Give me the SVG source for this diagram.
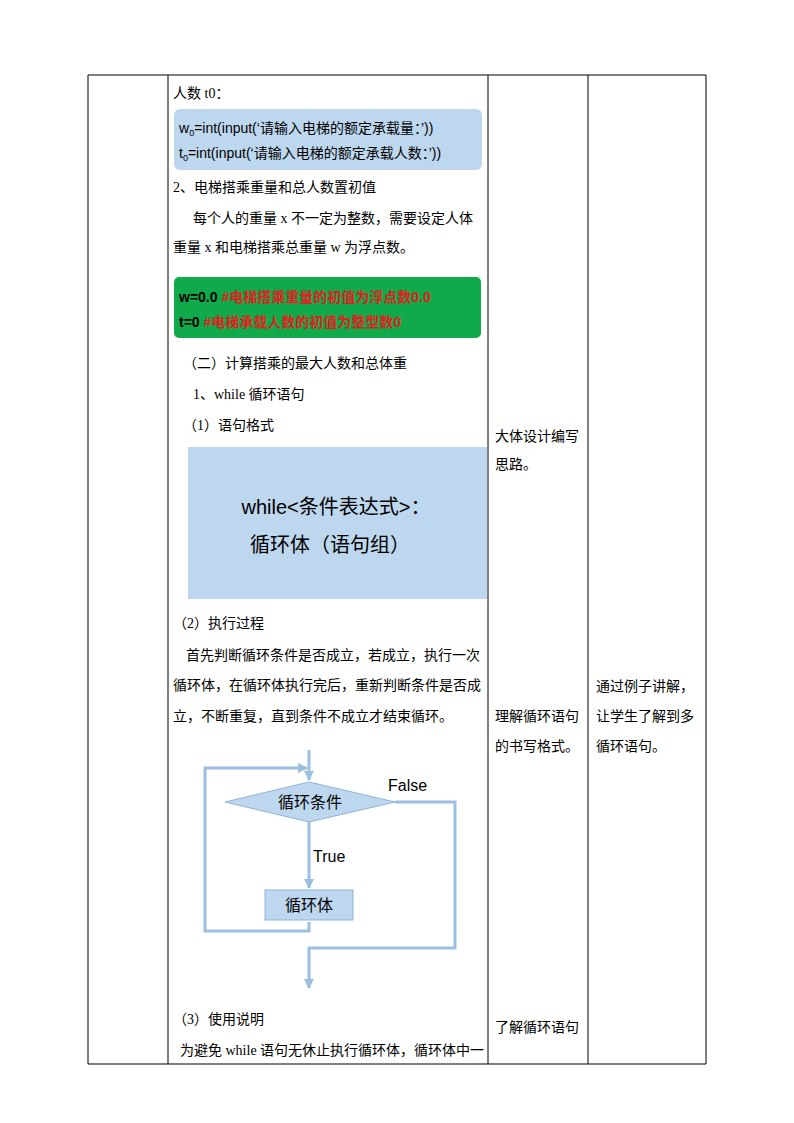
<svg xmlns="http://www.w3.org/2000/svg" width="794" height="1123" viewBox="0 0 794 1123">
<style>
.t{font-family:"Liberation Serif","Noto Sans CJK SC",serif;font-size:14px;fill:#000}
.s{font-family:"Liberation Sans","Noto Sans CJK SC",sans-serif;fill:#000}
.g{stroke:#000;stroke-width:1;fill:none}
.f{stroke:#9dbfdf;stroke-width:3;fill:none}
</style>
<defs><marker id="a" viewBox="0 0 10 10" refX="9" refY="5" markerWidth="3.5" markerHeight="3.5" orient="auto"><path d="M0,0L10,5L0,10z" fill="#9dbfdf"/></marker></defs>
<rect width="794" height="1123" fill="#fff"/>
<g id="table">
<path class="g" d="M88,75H706V1064H88Z M168,75V1064 M488,75V1064 M588,75V1064"/>
</g>
<g id="content">
<text class="t" x="173" y="98">人数 t0：</text>
<rect x="174" y="109" width="308" height="61" rx="6" fill="#bdd7ee"/>
<text class="s" x="179" y="133" font-size="14">w<tspan font-size="9" dy="3">0</tspan><tspan dy="-3">=int(input(‘请输入电梯的额定承载量：’))</tspan></text>
<text class="s" x="179" y="158" font-size="14">t<tspan font-size="9" dy="3">0</tspan><tspan dy="-3">=int(input(‘请输入电梯的额定承载人数：’))</tspan></text>
<text class="t" x="173" y="192">2、电梯搭乘重量和总人数置初值</text>
<text class="t" x="193" y="223">每个人的重量 x 不一定为整数，需要设定人体</text>
<text class="t" x="173" y="252">重量 x 和电梯搭乘总重量 w 为浮点数。</text>
<rect x="174" y="277" width="307" height="61" rx="5" fill="#10aa4a"/>
<text class="s" x="179" y="302" font-size="14" font-weight="bold"><tspan fill="#000">w=0.0 </tspan><tspan fill="#e02020">#电梯搭乘重量的初值为浮点数0.0</tspan></text>
<text class="s" x="179" y="327" font-size="14" font-weight="bold"><tspan fill="#000">t=0 </tspan><tspan fill="#e02020">#电梯承载人数的初值为整型数0</tspan></text>
<text class="t" x="183" y="368">（二）计算搭乘的最大人数和总体重</text>
<text class="t" x="193" y="399">1、while 循环语句</text>
<text class="t" x="183" y="430">（1）语句格式</text>
<rect x="188" y="447" width="299" height="152" fill="#bdd7ee"/>
<text class="s" x="336" y="514" font-size="20" text-anchor="middle">while&lt;条件表达式&gt;：</text>
<text class="s" x="330" y="552" font-size="20" text-anchor="middle">循环体（语句组）</text>
<text class="t" x="173" y="628">（2）执行过程</text>
<text class="t" x="186" y="660">首先判断循环条件是否成立，若成立，执行一次</text>
<text class="t" x="173" y="690">循环体，在循环体执行完后，重新判断条件是否成</text>
<text class="t" x="173" y="721">立，不断重复，直到条件不成立才结束循环。</text>
<text class="t" x="173" y="1024">（3）使用说明</text>
<text class="t" x="180" y="1055">为避免 while 语句无休止执行循环体，循环体中一</text>
<text class="t" x="495" y="441">大体设计编写</text>
<text class="t" x="495" y="469">思路。</text>
<text class="t" x="495" y="721">理解循环语句</text>
<text class="t" x="495" y="751">的书写格式。</text>
<text class="t" x="495" y="1032">了解循环语句</text>
<text class="t" x="596" y="691">通过例子讲解，</text>
<text class="t" x="596" y="721">让学生了解到多</text>
<text class="t" x="596" y="751">循环语句。</text>
</g>
<g id="connectors">
<path class="f" d="M309,750V780" marker-end="url(#a)"/>
<path class="f" d="M309,922V931H205V768H307" marker-end="url(#a)"/>
<path class="f" d="M309,822V888" marker-end="url(#a)"/>
<path class="f" d="M395,802H455V948H309V988" marker-end="url(#a)"/>
</g>
<g id="decision">
<polygon points="225,802 309,782 395,802 309,822" fill="#bdd7ee" stroke="#8fb3d9"/>
<text class="s" x="310" y="808" font-size="16" text-anchor="middle">循环条件</text>
</g>
<g id="body">
<rect x="265" y="890" width="88" height="30" fill="#bdd7ee" stroke="#8fb3d9"/>
<text class="s" x="309" y="911" font-size="16" text-anchor="middle">循环体</text>
</g>
<text class="s" x="313" y="862" font-size="16">True</text>
<text class="s" x="388" y="791" font-size="16">False</text>
</svg>
